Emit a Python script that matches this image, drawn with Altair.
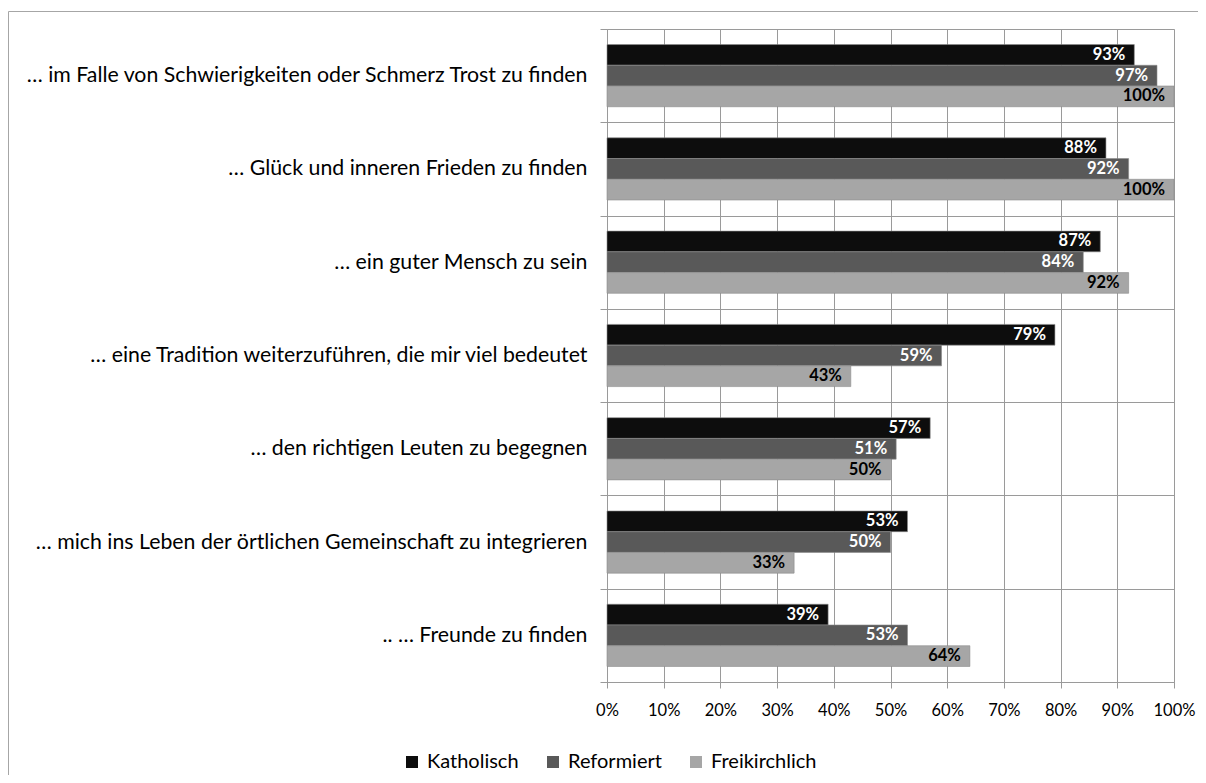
import altair as alt
import pandas as pd

categories = [
    "… im Falle von Schwierigkeiten oder Schmerz Trost zu finden",
    "… Glück und inneren Frieden zu finden",
    "… ein guter Mensch zu sein",
    "… eine Tradition weiterzuführen, die mir viel bedeutet",
    "… den richtigen Leuten zu begegnen",
    "… mich ins Leben der örtlichen Gemeinschaft zu integrieren",
    ".. … Freunde zu finden",
]
series = ["Katholisch", "Reformiert", "Freikirchlich"]
katholisch = [93, 88, 87, 79, 57, 53, 39]
reformiert = [97, 92, 84, 59, 51, 50, 53]
freikirchlich = [100, 100, 92, 43, 50, 33, 64]
x_ticks = [0, 10, 20, 30, 40, 50, 60, 70, 80, 90, 100]
colors = ["#0d0d0d", "#595959", "#a6a6a6"]

rows = []
for s, vals in zip(series, [katholisch, reformiert, freikirchlich]):
    for c, v in zip(categories, vals):
        rows.append({"Kategorie": c, "Gruppe": s, "Wert": v})
df = pd.DataFrame(rows)

FONT = "Lato"
GRID = "#9a9a9a"
W, H = 567, 653

y = alt.Y(
    "Kategorie:N",
    sort=categories,
    scale=alt.Scale(paddingInner=0, paddingOuter=0),
    axis=alt.Axis(
        title=None, tickBand="extent", grid=True, gridColor=GRID,
        ticks=True, tickColor=GRID, tickSize=7, domainColor=GRID,
        labelPadding=13, labelFontSize=21.3, labelFont=FONT, labelColor="#000",
        labelLimit=800,
    ),
)
yoff = alt.YOffset("Gruppe:N", sort=series,
                   scale=alt.Scale(paddingInner=0, paddingOuter=0.75))
x = alt.X(
    "Wert:Q",
    scale=alt.Scale(domain=[0, 100], nice=False),
    axis=alt.Axis(
        title=None, values=x_ticks, labelExpr="datum.value + '%'",
        grid=True, gridColor=GRID, tickColor=GRID, tickSize=6, domainColor=GRID,
        labelFontSize=16.5, labelFont=FONT, labelColor="#000", labelPadding=14,
        labelFlush=False, labelOverlap=False,
    ),
)
color = alt.Color(
    "Gruppe:N", sort=series,
    scale=alt.Scale(domain=series, range=colors),
    legend=alt.Legend(
        title=None, orient="none", legendX=-205, legendY=723,
        direction="horizontal", symbolType="square", symbolSize=144,
        symbolStrokeWidth=0, labelFontSize=20, labelFont=FONT, labelColor="#000",
        columnPadding=24, labelOffset=5,
    ),
)

bars = alt.Chart(df).mark_bar(stroke="#8c8c8c", strokeWidth=0.6).encode(
    y=y, yOffset=yoff, x=x, color=color
)
labels = alt.Chart(df).transform_calculate(
    label="datum.Wert + '%'"
).mark_text(
    align="right", baseline="middle", dx=-9, fontWeight="bold",
    fontSize=16.5, font=FONT,
).encode(
    y=y, yOffset=yoff, x=x, text="label:N",
    color=alt.condition(alt.datum.Gruppe == "Freikirchlich",
                        alt.value("#000000"), alt.value("#ffffff")),
)
border = alt.Chart(pd.DataFrame({"a": [0]})).mark_rect(
    fill="transparent", stroke="#a6a6a6", strokeWidth=1
).encode(
    x=alt.value(-598.5), x2=alt.value(700),
    y=alt.value(-17.5), y2=alt.value(900),
)

chart = alt.layer(border, bars, labels).properties(
    width=W, height=H,
    autosize=alt.AutoSizeParams(type="none"),
    padding={"left": 599, "top": 21, "right": 24, "bottom": 93},
).configure_view(stroke=None).configure(background="white")

chart.save("out.html", embed_options={"renderer": "svg", "actions": False})
